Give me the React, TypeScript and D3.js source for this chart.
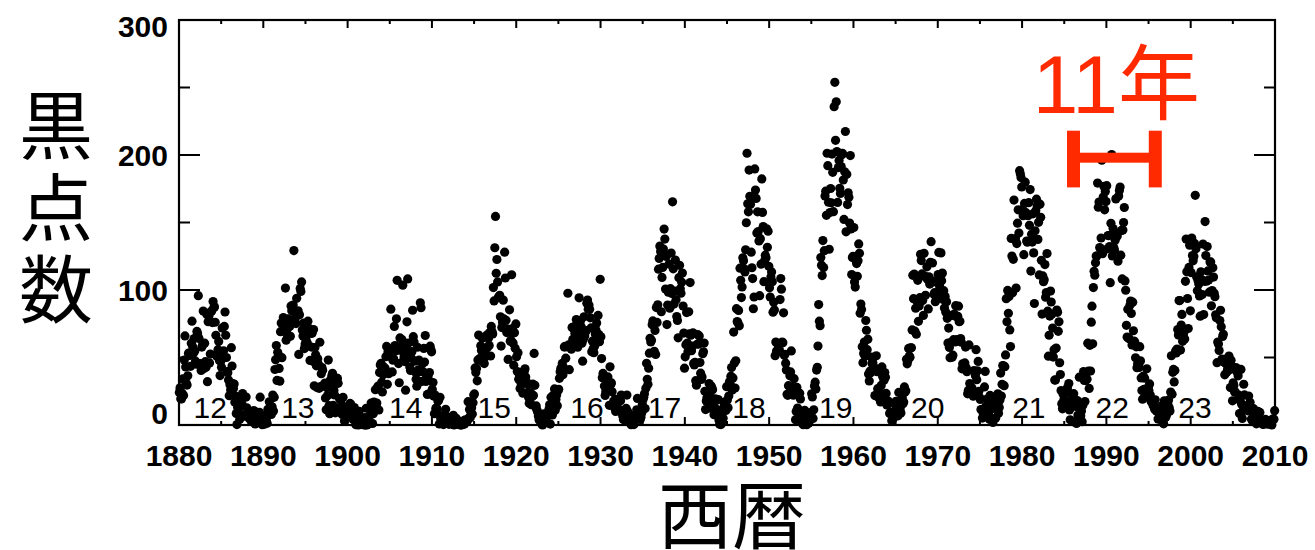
import React from 'react';
import * as d3 from 'd3';

// Monthly sunspot numbers, one array per decade (Jan..Dec of each year, 120 values)
const sunspots1880s = [
  24.0, 27.5, 19.5, 19.3, 23.5, 34.1, 21.9, 48.1, 66.0, 43.0, 30.7, 29.6,
  36.4, 53.2, 51.5, 51.7, 43.5, 60.5, 76.9, 58.0, 53.2, 64.0, 54.8, 47.3,
  45.0, 69.3, 67.5, 95.8, 64.1, 45.2, 45.4, 40.4, 57.7, 59.2, 84.4, 41.8,
  60.6, 46.9, 42.8, 82.1, 32.1, 76.5, 80.6, 46.0, 52.6, 83.8, 84.5, 75.9,
  91.5, 86.9, 87.5, 76.1, 66.5, 51.2, 53.1, 55.8, 61.9, 47.8, 36.6, 47.2,
  42.8, 71.8, 49.8, 55.0, 73.0, 83.7, 66.5, 50.0, 39.6, 38.7, 33.3, 21.7,
  29.9, 25.9, 57.3, 43.7, 30.7, 27.1, 30.3, 16.9, 21.4, 8.6, 0.3, 13.0,
  10.3, 13.2, 4.2, 6.9, 20.0, 15.7, 23.3, 21.4, 7.4, 6.6, 6.9, 20.7,
  12.7, 7.1, 7.8, 5.1, 7.0, 7.1, 3.1, 2.8, 8.8, 2.1, 10.7, 6.7,
  0.8, 8.5, 6.7, 4.3, 2.4, 6.4, 9.4, 20.6, 6.5, 2.1, 0.2, 6.7,
];
const sunspots1890s = [
  5.3, 0.6, 5.1, 1.6, 4.8, 1.3, 11.6, 8.5, 17.2, 11.2, 9.6, 7.8,
  13.5, 22.2, 10.4, 20.5, 41.1, 48.3, 58.8, 33.0, 53.8, 51.5, 41.9, 32.5,
  69.1, 75.6, 49.9, 69.6, 79.6, 76.3, 76.8, 101.4, 62.8, 70.5, 65.4, 78.6,
  75.0, 73.0, 65.7, 88.1, 84.7, 88.2, 88.8, 129.2, 77.9, 79.7, 75.1, 93.8,
  83.2, 84.6, 52.3, 81.6, 101.2, 98.9, 106.0, 70.3, 65.9, 75.5, 56.6, 60.0,
  63.3, 67.2, 61.0, 76.9, 67.5, 71.5, 47.8, 68.9, 57.7, 67.9, 47.2, 70.7,
  29.0, 57.4, 52.0, 43.8, 27.7, 49.0, 45.0, 27.2, 61.3, 28.4, 38.0, 42.6,
  40.6, 29.4, 29.1, 31.0, 20.0, 11.3, 27.6, 21.8, 48.1, 14.3, 8.4, 33.3,
  30.2, 36.4, 38.3, 14.5, 25.8, 22.3, 9.0, 31.4, 34.8, 34.4, 30.9, 12.6,
  19.5, 9.2, 18.1, 14.2, 7.7, 20.5, 13.5, 2.9, 8.4, 13.0, 7.8, 10.5,
];
const sunspots1900s = [
  9.4, 13.6, 8.6, 16.0, 15.2, 12.1, 8.3, 4.3, 8.3, 12.9, 4.5, 0.3,
  0.2, 2.4, 4.5, 0.0, 10.2, 5.8, 0.7, 1.0, 0.6, 3.7, 3.8, 0.0,
  5.5, 0.0, 12.4, 0.0, 2.8, 1.4, 0.9, 2.3, 7.6, 16.3, 10.3, 1.1,
  8.3, 17.0, 13.5, 26.1, 14.6, 16.3, 27.9, 28.8, 11.1, 38.9, 44.5, 45.6,
  31.6, 24.5, 37.2, 43.0, 39.5, 41.9, 50.6, 58.2, 30.1, 54.2, 38.0, 54.6,
  54.8, 85.8, 56.5, 39.3, 48.0, 49.0, 73.0, 58.8, 55.0, 78.7, 107.2, 55.5,
  45.5, 31.3, 64.5, 55.3, 57.7, 63.2, 103.6, 47.7, 50.9, 47.0, 25.8, 56.6,
  76.4, 108.2, 60.7, 52.6, 42.9, 40.4, 49.7, 54.3, 85.0, 65.4, 61.5, 47.3,
  39.2, 33.9, 28.7, 57.6, 40.8, 48.1, 39.5, 90.5, 86.9, 32.3, 45.5, 39.5,
  56.7, 46.6, 66.3, 32.3, 36.0, 22.6, 35.8, 23.1, 38.8, 58.4, 55.8, 54.2,
];
const sunspots1910s = [
  26.4, 31.5, 21.4, 8.4, 22.2, 12.3, 12.7, 11.4, 17.7, 18.2, 0.8, 20.5,
  4.9, 6.2, 3.8, 7.0, 0.3, 1.7, 6.7, 11.6, 1.1, 6.2, 3.0, 3.5,
  0.5, 5.1, 1.6, 4.6, 6.0, 4.5, 7.2, 0.0, 3.8, 1.2, 5.0, 2.1,
  2.3, 2.9, 0.5, 0.9, 0.0, 0.0, 1.7, 0.2, 1.2, 3.1, 0.7, 3.8,
  2.8, 2.6, 3.1, 17.3, 5.2, 11.4, 5.4, 7.7, 12.7, 8.2, 16.4, 22.3,
  23.0, 42.3, 38.8, 41.9, 32.7, 48.2, 66.6, 48.1, 49.4, 58.7, 55.1, 64.4,
  47.3, 49.0, 45.5, 55.0, 56.2, 65.9, 66.7, 57.8, 64.3, 58.8, 68.5, 51.1,
  73.0, 69.3, 67.5, 101.8, 91.9, 131.3, 154.5, 112.4, 122.6, 106.0, 94.5, 95.0,
  96.1, 80.1, 58.5, 72.2, 76.2, 92.5, 78.6, 128.0, 108.9, 77.6, 68.5, 71.3,
  48.6, 69.0, 85.3, 62.0, 62.7, 111.3, 71.4, 60.8, 44.3, 68.4, 56.8, 74.9,
];
const sunspots1920s = [
  50.6, 39.6, 53.5, 33.9, 37.5, 27.1, 31.5, 34.9, 39.2, 23.6, 39.5, 40.0,
  41.6, 35.6, 32.1, 23.4, 29.8, 20.6, 16.2, 23.6, 23.9, 15.0, 20.9, 30.3,
  21.9, 53.0, 29.4, 13.4, 14.1, 11.1, 9.6, 6.7, 3.8, 3.3, 5.6, 3.4,
  0.6, 0.0, 5.3, 8.3, 1.5, 3.0, 2.1, 7.7, 8.0, 6.8, 11.5, 15.0,
  0.7, 20.5, 11.9, 7.4, 21.9, 19.5, 26.7, 10.9, 18.9, 22.2, 14.2, 25.4,
  26.5, 34.6, 39.5, 42.1, 40.3, 45.6, 37.2, 42.4, 57.7, 58.3, 49.5, 58.0,
  58.0, 97.6, 59.3, 41.0, 58.5, 58.8, 56.2, 72.3, 63.4, 71.4, 62.7, 67.9,
  73.5, 78.1, 72.1, 57.6, 67.5, 94.2, 63.7, 77.2, 72.7, 60.6, 47.3, 63.3,
  80.1, 66.0, 68.8, 69.9, 90.2, 92.6, 85.8, 88.9, 85.7, 79.4, 71.9, 54.2,
  62.1, 56.4, 53.6, 58.3, 67.4, 70.3, 75.6, 64.7, 81.2, 67.1, 61.7, 107.9,
];
const sunspots1930s = [
  65.3, 49.2, 35.0, 38.2, 36.8, 28.8, 21.9, 24.9, 32.1, 34.4, 35.6, 26.0,
  14.6, 43.1, 30.0, 31.2, 24.6, 15.3, 17.4, 13.0, 19.0, 10.0, 18.7, 17.8,
  12.1, 10.6, 11.2, 11.2, 17.9, 22.2, 9.6, 6.8, 4.0, 8.9, 8.2, 11.0,
  12.3, 22.2, 10.1, 2.9, 3.2, 5.2, 2.8, 0.2, 5.1, 3.0, 0.6, 0.3,
  3.4, 7.8, 4.3, 11.3, 19.7, 6.7, 9.3, 8.3, 4.0, 5.7, 8.7, 15.4,
  18.9, 20.5, 23.1, 12.2, 27.3, 45.7, 33.9, 30.1, 42.1, 53.2, 64.2, 61.5,
  62.8, 74.3, 77.1, 74.9, 54.6, 70.0, 52.3, 87.0, 76.0, 89.0, 115.4, 123.4,
  132.5, 128.5, 83.9, 109.3, 116.7, 130.3, 145.1, 137.7, 100.7, 124.9, 74.4, 88.8,
  98.4, 119.2, 86.5, 101.0, 127.4, 97.5, 165.3, 115.7, 89.6, 99.1, 122.2, 92.7,
  80.3, 77.4, 64.6, 109.1, 118.3, 101.0, 97.6, 105.8, 112.6, 88.1, 68.1, 42.1,
];
const sunspots1940s = [
  50.5, 59.4, 83.3, 60.7, 54.4, 83.9, 67.5, 105.5, 66.5, 55.0, 58.4, 68.3,
  45.6, 44.5, 46.4, 32.8, 29.5, 59.8, 66.9, 60.0, 65.9, 46.3, 38.4, 33.7,
  35.6, 52.8, 54.2, 60.7, 25.0, 11.4, 17.7, 20.2, 17.2, 19.2, 30.7, 22.5,
  12.4, 28.9, 27.4, 26.1, 14.1, 7.6, 13.2, 19.4, 10.0, 7.8, 10.2, 18.8,
  3.7, 0.5, 11.0, 0.3, 2.5, 5.0, 5.0, 16.7, 14.3, 16.9, 10.8, 28.4,
  18.5, 12.7, 21.5, 32.0, 30.6, 36.2, 42.6, 25.9, 34.9, 68.8, 46.0, 27.4,
  47.6, 86.2, 76.6, 75.7, 84.9, 73.5, 116.2, 107.2, 94.4, 102.3, 123.8, 121.7,
  115.7, 113.4, 129.8, 149.8, 201.3, 163.9, 157.9, 188.8, 169.4, 163.6, 128.0, 116.5,
  108.5, 86.1, 94.8, 189.7, 174.0, 167.8, 142.2, 157.9, 143.3, 136.3, 95.8, 138.0,
  119.1, 182.3, 157.5, 147.0, 106.2, 121.7, 125.8, 123.8, 145.3, 131.6, 143.5, 117.6,
];
const sunspots1950s = [
  101.6, 94.8, 109.7, 113.4, 106.2, 83.6, 91.0, 85.2, 51.3, 61.4, 54.8, 54.1,
  59.9, 59.9, 55.9, 92.9, 108.5, 100.6, 61.5, 61.0, 83.1, 51.6, 52.4, 45.8,
  40.7, 22.7, 22.0, 29.1, 23.4, 36.4, 39.3, 54.9, 28.2, 23.8, 22.1, 34.3,
  26.5, 3.9, 10.0, 27.8, 12.5, 21.8, 8.6, 23.5, 19.3, 8.2, 1.6, 2.5,
  0.2, 0.5, 10.9, 1.8, 0.8, 0.2, 4.8, 8.4, 1.5, 7.0, 9.2, 7.6,
  23.1, 20.8, 4.9, 11.3, 28.9, 31.7, 26.7, 40.7, 42.7, 58.5, 89.2, 76.9,
  73.6, 124.0, 118.4, 110.7, 136.6, 116.6, 129.1, 169.6, 173.2, 155.3, 201.3, 192.1,
  165.0, 130.2, 157.4, 175.2, 164.6, 200.7, 187.2, 158.0, 235.8, 253.8, 210.9, 239.4,
  202.5, 164.9, 190.7, 196.0, 175.3, 171.5, 191.4, 200.2, 201.2, 181.5, 152.3, 187.6,
  217.4, 143.1, 185.7, 163.3, 172.0, 168.7, 149.6, 199.6, 145.2, 111.4, 124.0, 125.0,
];
const sunspots1960s = [
  146.3, 106.0, 102.2, 122.0, 119.6, 110.2, 121.7, 134.1, 127.2, 82.8, 89.6, 85.6,
  57.9, 46.1, 53.0, 61.4, 51.0, 77.4, 70.2, 55.8, 63.6, 37.7, 32.6, 39.9,
  38.7, 50.3, 45.6, 46.4, 43.7, 42.0, 21.8, 21.8, 51.3, 39.5, 26.9, 23.2,
  19.8, 24.4, 17.1, 29.3, 43.0, 35.9, 19.6, 33.2, 38.8, 35.3, 23.4, 14.9,
  15.3, 17.7, 16.5, 8.6, 9.5, 9.1, 3.1, 9.3, 4.7, 6.1, 7.4, 15.1,
  17.5, 14.2, 11.7, 6.8, 24.1, 15.9, 11.9, 8.9, 16.8, 20.1, 15.8, 17.0,
  28.2, 24.4, 25.3, 48.7, 45.3, 47.7, 56.7, 51.2, 50.2, 57.2, 57.2, 70.4,
  110.9, 93.6, 111.8, 69.5, 86.5, 67.3, 91.5, 107.2, 76.8, 88.2, 94.3, 126.4,
  121.8, 111.9, 92.2, 81.2, 127.2, 110.3, 96.1, 109.3, 117.2, 107.7, 86.0, 109.8,
  104.4, 120.5, 135.8, 106.8, 120.0, 106.0, 96.8, 98.0, 91.3, 95.7, 93.5, 97.9,
];
const sunspots1970s = [
  111.5, 127.8, 102.9, 109.5, 127.5, 106.8, 112.5, 93.0, 99.5, 86.6, 95.2, 83.5,
  91.3, 79.0, 60.7, 71.8, 57.5, 49.8, 81.0, 61.4, 50.2, 51.7, 63.2, 82.2,
  61.5, 88.4, 80.1, 63.2, 80.5, 88.0, 76.5, 76.8, 64.0, 61.3, 41.6, 45.3,
  43.4, 42.9, 46.0, 57.7, 42.4, 39.5, 23.1, 25.6, 59.3, 30.7, 23.9, 23.3,
  27.6, 26.0, 21.3, 40.3, 39.5, 36.6, 55.8, 33.6, 40.2, 47.1, 25.0, 20.5,
  18.9, 11.5, 11.5, 5.1, 9.0, 11.4, 28.2, 39.7, 13.9, 9.1, 19.4, 7.8,
  8.1, 4.3, 21.9, 18.8, 12.4, 12.2, 1.9, 16.4, 13.5, 20.6, 5.2, 15.3,
  16.4, 23.1, 8.7, 12.9, 18.6, 38.5, 21.4, 30.1, 44.0, 43.8, 29.1, 43.2,
  51.9, 93.6, 76.5, 99.7, 82.7, 95.1, 70.4, 58.1, 138.2, 125.1, 97.9, 122.7,
  166.6, 137.5, 138.0, 101.5, 134.4, 149.5, 159.4, 142.2, 188.4, 186.2, 183.3, 176.3,
];
const sunspots1980s = [
  159.6, 155.0, 126.2, 164.1, 179.9, 157.3, 136.3, 135.4, 155.0, 164.7, 147.9, 174.4,
  114.0, 141.3, 135.5, 156.4, 127.5, 90.0, 143.8, 158.7, 167.3, 162.4, 137.5, 150.1,
  111.2, 163.6, 153.8, 122.0, 82.2, 110.4, 106.1, 107.6, 118.8, 94.7, 98.1, 127.0,
  84.3, 51.0, 66.5, 80.7, 99.2, 91.1, 82.2, 71.8, 50.3, 55.8, 33.3, 33.4,
  57.0, 85.1, 83.5, 69.4, 76.4, 46.1, 37.4, 25.5, 15.7, 12.0, 22.8, 18.7,
  16.5, 15.9, 17.2, 16.2, 27.5, 24.2, 30.7, 11.1, 3.9, 18.6, 16.2, 17.3,
  2.5, 23.2, 15.1, 18.5, 13.7, 1.1, 18.1, 7.4, 3.8, 35.4, 15.2, 6.8,
  10.4, 2.4, 14.7, 39.6, 33.0, 17.4, 33.0, 38.7, 33.9, 60.6, 39.9, 27.1,
  59.0, 40.0, 76.2, 88.0, 60.1, 101.8, 113.8, 111.0, 120.1, 125.1, 125.1, 179.2,
  161.3, 165.1, 131.4, 130.6, 138.5, 196.2, 126.9, 168.9, 176.7, 159.4, 173.0, 165.5,
];
const sunspots1990s = [
  177.3, 130.5, 140.3, 140.3, 132.2, 105.4, 149.4, 200.3, 125.2, 145.5, 131.4, 129.7,
  136.9, 167.5, 141.9, 140.0, 121.3, 169.7, 173.7, 176.3, 125.8, 144.1, 108.2, 144.4,
  150.0, 161.1, 106.7, 99.8, 73.8, 65.2, 85.7, 64.5, 63.9, 88.7, 91.8, 82.6,
  59.3, 91.0, 69.8, 62.2, 61.3, 49.8, 57.9, 42.4, 45.3, 43.7, 42.6, 58.0,
  47.5, 34.9, 25.5, 19.1, 36.2, 26.4, 34.7, 20.8, 23.9, 41.6, 22.1, 28.0,
  25.5, 30.4, 22.3, 17.6, 17.0, 18.1, 14.4, 16.2, 11.9, 18.7, 11.0, 10.2,
  11.5, 4.4, 9.2, 4.8, 5.5, 11.8, 8.2, 14.4, 1.6, 0.9, 17.9, 9.0,
  5.7, 7.6, 8.7, 15.5, 18.5, 12.7, 10.4, 24.4, 51.3, 22.8, 39.0, 41.2,
  31.9, 40.3, 54.8, 53.4, 56.3, 70.7, 66.6, 92.2, 92.2, 55.5, 74.0, 81.9,
  62.0, 66.3, 68.8, 63.7, 106.4, 137.7, 113.5, 93.7, 71.5, 116.7, 133.2, 84.6,
];
const sunspots2000s = [
  112.9, 138.5, 125.5, 121.6, 124.9, 134.5, 170.1, 130.5, 109.7, 99.4, 106.8, 104.4,
  95.6, 80.6, 113.5, 107.7, 96.6, 134.0, 81.8, 106.4, 150.7, 125.5, 106.5, 132.2,
  114.1, 107.4, 98.4, 120.7, 120.8, 88.3, 99.6, 116.4, 109.6, 97.5, 95.0, 81.6,
  79.5, 46.2, 61.5, 60.0, 55.2, 77.4, 85.0, 72.7, 48.8, 65.6, 67.2, 46.5,
  37.2, 46.0, 48.9, 39.3, 41.5, 43.2, 51.1, 40.9, 27.7, 48.0, 43.5, 17.9,
  31.3, 29.2, 24.5, 24.4, 42.6, 39.6, 39.9, 36.4, 22.1, 8.5, 18.0, 41.2,
  15.3, 4.9, 10.6, 30.2, 22.3, 13.9, 12.2, 12.9, 14.4, 10.5, 21.4, 13.6,
  16.8, 10.7, 4.5, 3.4, 11.7, 12.1, 9.7, 6.0, 2.4, 0.9, 1.7, 10.1,
  3.3, 2.1, 9.3, 2.9, 2.9, 3.1, 0.5, 0.5, 1.1, 2.9, 4.1, 0.8,
  1.5, 1.4, 0.7, 1.2, 2.9, 2.6, 3.5, 0.0, 4.2, 4.6, 4.2, 10.6,
];

const decadeStarts = [1880, 1890, 1900, 1910, 1920, 1930, 1940, 1950, 1960, 1970, 1980, 1990, 2000];
const decadeValues = [
  sunspots1880s, sunspots1890s, sunspots1900s, sunspots1910s, sunspots1920s, sunspots1930s, sunspots1940s,
  sunspots1950s, sunspots1960s, sunspots1970s, sunspots1980s, sunspots1990s, sunspots2000s,
];

// solar cycle numbers and where their labels sit
const cycleNames = ['12', '13', '14', '15', '16', '17', '18', '19', '20', '21', '22', '23'];
const cycleYears = [1883.7, 1894.1, 1906.9, 1917.4, 1928.4, 1937.6, 1947.6, 1957.9, 1968.8, 1980.8, 1990.7, 2000.5];

const xTickYears = [1880, 1890, 1900, 1910, 1920, 1930, 1940, 1950, 1960, 1970, 1980, 1990, 2000, 2010];
const xMinorYears = [1885, 1895, 1905, 1915, 1925, 1935, 1945, 1955, 1965, 1975, 1985, 1995, 2005];
const yTickValues = [0, 100, 200, 300];
const yMinorValues = [50, 150, 250];

// the "11年" bracket
const periodYears = [1986.1, 1995.8];
const periodRange = [176, 218];
const periodMid = 198;
const periodLabel = '11年';

const yTitle = '黒点数';
const xTitle = '西暦';

const W = 1315;
const H = 550;
const margin = { top: 20, right: 40, bottom: 125, left: 179 };
const RED = '#ff2a00';

export default function App() {
  const x = d3.scaleLinear().domain([1880, 2010]).range([margin.left, W - margin.right]);
  const y = d3.scaleLinear().domain([0, 300]).range([H - margin.bottom, margin.top]);

  const points = decadeValues.flatMap((vals, di) =>
    vals.map((v, i) => ({ t: decadeStarts[di] + (i + 0.5) / 12, v }))
  );

  const x0 = x.range()[0];
  const x1 = x.range()[1];
  const y0 = y.range()[0];
  const y1 = y.range()[1];
  const tickFont = { fontFamily: '"Liberation Sans", Arial, sans-serif', fontWeight: 700, fontSize: 30 };
  const cjk = '"Noto Sans CJK JP", "Noto Sans CJK SC", sans-serif';

  return (
    <svg width={W} height={H} style={{ position: 'fixed', left: 0, top: 0, background: '#fff' }}>
      {/* data */}
      <g>
        {points.map((d, i) => (
          <circle key={i} cx={x(d.t)} cy={y(d.v)} r={4.6} fill="#000" />
        ))}
      </g>

      {/* cycle numbers */}
      {cycleNames.map((c, i) => (
        <text
          key={c}
          x={x(cycleYears[i])}
          y={y(5)}
          textAnchor="middle"
          fontFamily='"Liberation Sans", Arial, sans-serif'
          fontSize={30}
          fill="#000"
        >
          {c}
        </text>
      ))}

      {/* frame */}
      <rect x={x0} y={y1} width={x1 - x0} height={y0 - y1} fill="none" stroke="#000" strokeWidth={2.2} />

      {/* x ticks, bottom and top */}
      {xTickYears.map((t) => (
        <g key={t}>
          <line x1={x(t)} x2={x(t)} y1={y0} y2={y0 - 8} stroke="#000" strokeWidth={2} />
          <line x1={x(t)} x2={x(t)} y1={y1} y2={y1 + 8} stroke="#000" strokeWidth={2} />
          <text x={x(t)} y={y0 + 41} textAnchor="middle" {...tickFont} fill="#000">
            {t}
          </text>
        </g>
      ))}
      {xMinorYears.map((t) => (
        <g key={t}>
          <line x1={x(t)} x2={x(t)} y1={y0} y2={y0 - 4} stroke="#000" strokeWidth={2} />
          <line x1={x(t)} x2={x(t)} y1={y1} y2={y1 + 4} stroke="#000" strokeWidth={2} />
        </g>
      ))}

      {/* y ticks, left and right */}
      {yTickValues.map((v) => (
        <g key={v}>
          <line x1={x0} x2={x0 + 21} y1={y(v)} y2={y(v)} stroke="#000" strokeWidth={2} />
          <line x1={x1} x2={x1 - 21} y1={y(v)} y2={y(v)} stroke="#000" strokeWidth={2} />
          <text
            x={x0 - 11}
            y={Math.min(Math.max(y(v), y1 + 6), y0 - 12)}
            dy="0.36em"
            textAnchor="end"
            {...tickFont}
            fill="#000"
          >
            {v}
          </text>
        </g>
      ))}
      {yMinorValues.map((v) => (
        <g key={v}>
          <line x1={x0} x2={x0 + 11} y1={y(v)} y2={y(v)} stroke="#000" strokeWidth={2} />
          <line x1={x1} x2={x1 - 11} y1={y(v)} y2={y(v)} stroke="#000" strokeWidth={2} />
        </g>
      ))}

      {/* axis titles */}
      <text
        x={56}
        y={88}
        style={{ writingMode: 'vertical-rl', letterSpacing: '8px' }}
        fontFamily={cjk}
        fontSize={74}
        fill="#000"
      >
        {yTitle}
      </text>
      <text x={732} y={543} textAnchor="middle" fontFamily={cjk} fontSize={74} fill="#000">
        {xTitle}
      </text>

      {/* 11-year bracket */}
      <g fill={RED}>
        <rect x={x(periodYears[0]) - 6.5} y={y(periodRange[1])} width={13} height={y(periodRange[0]) - y(periodRange[1])} />
        <rect x={x(periodYears[1]) - 6.5} y={y(periodRange[1])} width={13} height={y(periodRange[0]) - y(periodRange[1])} />
        <rect x={x(periodYears[0])} y={y(periodMid) - 5} width={x(periodYears[1]) - x(periodYears[0])} height={10} />
      </g>
      <text
        x={(x(periodYears[0]) + x(periodYears[1])) / 2 + 2}
        y={113}
        textAnchor="middle"
        fontFamily={'"Liberation Sans", Arial, ' + cjk}
        fontSize={82}
        fill={RED}
      >
        {periodLabel}
      </text>
    </svg>
  );
}
